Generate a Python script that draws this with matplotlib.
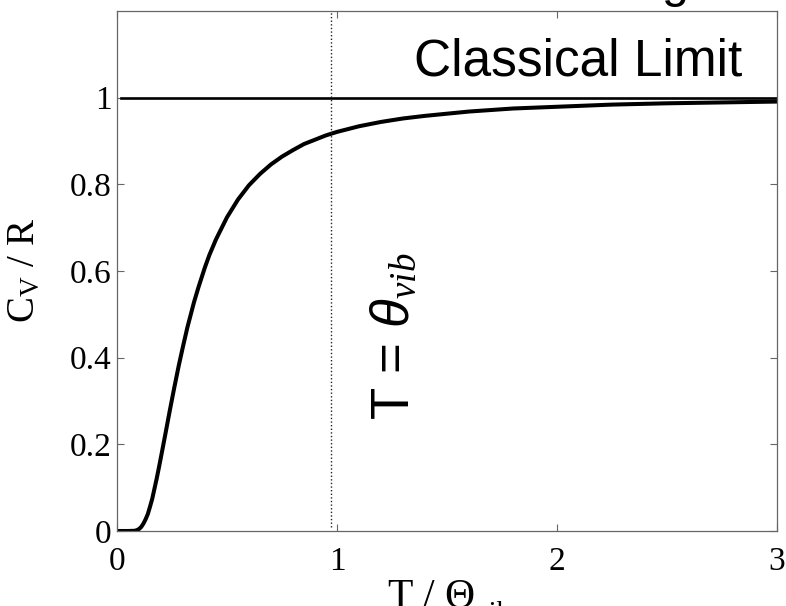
import matplotlib
matplotlib.use('Agg')
import matplotlib.pyplot as plt

# Reduced temperature T / theta_vib and the vibrational heat capacity Cv / R
T_red = [0.0, 0.05, 0.08, 0.09, 0.10, 0.11, 0.12, 0.13, 0.14, 0.15, 0.16, 0.17,
         0.18, 0.19, 0.20, 0.22, 0.24, 0.26, 0.28, 0.30, 0.32, 0.35, 0.37,
         0.40, 0.42, 0.45, 0.50, 0.55, 0.60, 0.65, 0.70, 0.75, 0.80, 0.85,
         0.90, 0.95, 1.00, 1.10, 1.20, 1.30, 1.40, 1.60, 1.80, 2.00, 2.25,
         2.50, 2.75, 3.00]
cv_over_R = [0.0, 0.0, 0.0005, 0.0019, 0.0045, 0.0093, 0.017, 0.027, 0.039,
             0.056, 0.074, 0.097, 0.120, 0.145, 0.171, 0.224, 0.278, 0.330,
             0.380, 0.426, 0.470, 0.528, 0.562, 0.609, 0.637, 0.673, 0.724,
             0.765, 0.798, 0.824, 0.846, 0.864, 0.879, 0.893, 0.903, 0.913,
             0.921, 0.934, 0.944, 0.952, 0.958, 0.968, 0.975, 0.979, 0.984,
             0.987, 0.989, 0.991]

classical_limit = 1.0
theta_marker = 0.975

xticks = [0, 1, 2, 3]
yticks = [0, 0.2, 0.4, 0.6, 0.8, 1.0]
ytick_labels = ['0', '0.2', '0.4', '0.6', '0.8', '1']

plt.rcParams.update({
    'mathtext.fontset': 'custom',
    'mathtext.rm': 'Liberation Serif',
    'mathtext.it': 'Liberation Serif:italic',
    'mathtext.sf': 'Liberation Sans:italic',
})

W, H = 786, 606
fig = plt.figure(figsize=(W / 100, H / 100), dpi=100)
ax = fig.add_axes([117 / W, 75 / H, 660 / W, 520 / H])

ax.plot(T_red, cv_over_R, color='k', lw=2.9, solid_joinstyle='round')
ax.plot([0.02, 3.0], [classical_limit, classical_limit], color='k', lw=1.9)
ax.plot([theta_marker, theta_marker], [0.01, 1.2], color='#222222', lw=1.0,
        ls=(0, (1, 1.6)))

ax.set_xlim(0, 3)
ax.set_ylim(0, 1.2)
ax.set_xticks(xticks)
ax.set_xticklabels([str(t) for t in xticks])
ax.set_yticks(yticks)
ax.set_yticklabels(ytick_labels)
ax.tick_params(direction='in', top=True, right=True, length=5, width=0.8,
               color='#666666', labelsize=24, labelfontfamily='Liberation Serif')
ax.tick_params(axis='x', pad=11)
ax.tick_params(axis='y', pad=4)
for s in ax.spines.values():
    s.set_color('#666666')
    s.set_linewidth(0.9)

fig.text(742 / W, 1 - 75 / H, 'Classical Limit', ha='right', va='baseline',
         family='Liberation Sans', size=37)

fig.text(370 / W, 1 - 420 / H, r'T = $\mathsf{\theta}_{vib}$', rotation=90,
         ha='left', va='bottom', family='Liberation Sans', size=38)

fig.text(25 / W, 1 - 270 / H, r'C$_\mathrm{V}$ / R', rotation=90,
         ha='center', va='center', family='Liberation Serif', size=28)

# x-axis label: main part, with the subscript set low at the bottom edge
fig.text(387 / W, 1 - 579 / H, r'T / $\Theta$', ha='left', va='top',
         family='Liberation Serif', size=30)
fig.text(474 / W, 1 - 621 / H, 'vib', ha='left', va='baseline',
         family='Liberation Serif', size=21)

# descender of the title line above the plot
fig.text(675 / W, 1 + 3 / H, 'g', ha='center', va='baseline',
         family='Liberation Sans', size=35)

fig.savefig('out.png', dpi=100)
